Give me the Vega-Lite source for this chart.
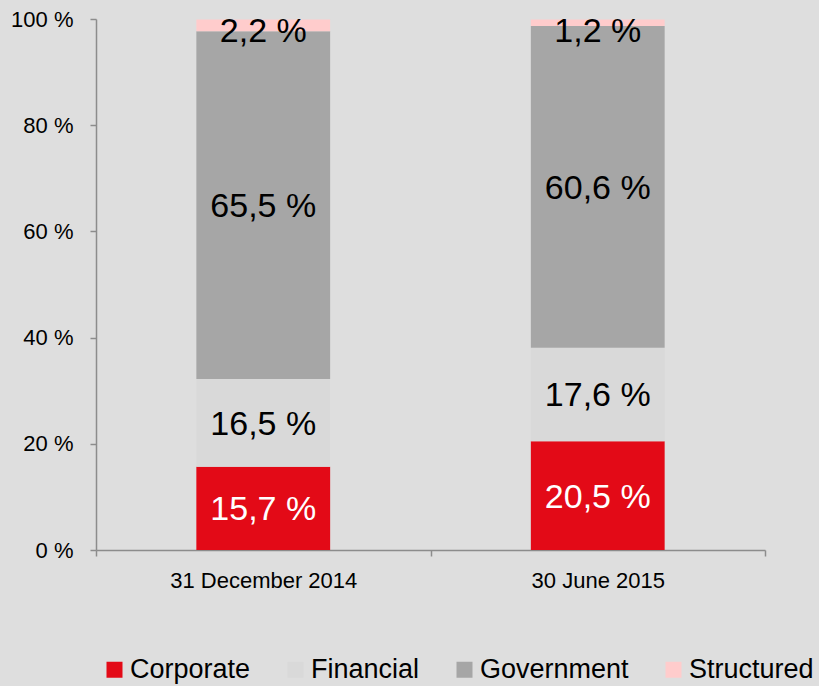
{
  "$schema": "https://vega.github.io/schema/vega-lite/v6.json",
  "width": 669,
  "height": 531,
  "autosize": {"type": "none"},
  "padding": {"left": 96, "top": 19, "right": 54, "bottom": 136},
  "background": "#dedede",
  "config": {"view": {"stroke": null}, "font": "Liberation Sans"},
  "data": {
    "values": [
      {"period": "31 December 2014", "category": "Corporate", "value": 15.7},
      {"period": "31 December 2014", "category": "Financial", "value": 16.5},
      {"period": "31 December 2014", "category": "Government", "value": 65.5},
      {"period": "31 December 2014", "category": "Structured", "value": 2.2},
      {"period": "30 June 2015", "category": "Corporate", "value": 20.5},
      {"period": "30 June 2015", "category": "Financial", "value": 17.6},
      {"period": "30 June 2015", "category": "Government", "value": 60.6},
      {"period": "30 June 2015", "category": "Structured", "value": 1.2}
    ]
  },
  "transform": [
    {"calculate": "indexof(['Corporate','Financial','Government','Structured'], datum.category)", "as": "order"},
    {"stack": "value", "groupby": ["period"], "sort": [{"field": "order"}], "as": ["y0", "y1"]},
    {"calculate": "(datum.y0 + datum.y1) / 2", "as": "ymid"},
    {"calculate": "replace(format(datum.value, '.1f'), '.', ',') + ' %'", "as": "label"}
  ],
  "encoding": {
    "x": {
      "field": "period",
      "type": "nominal",
      "sort": ["31 December 2014", "30 June 2015"],
      "scale": {"paddingInner": 0, "paddingOuter": 0},
      "axis": {
        "title": null,
        "labelAngle": 0,
        "labelFontSize": 22,
        "labelLimit": 0,
        "labelColor": "#000000",
        "labelFont": "Liberation Sans",
        "tickBand": "extent",
        "tickSize": 6,
        "tickColor": "#8c8c8c",
        "tickWidth": 1.5,
        "domainColor": "#8c8c8c",
        "domainWidth": 1.5,
        "labelPadding": 14
      }
    }
  },
  "layer": [
    {
      "mark": {"type": "bar", "width": {"band": 0.4}},
      "encoding": {
        "y": {
          "field": "y0",
          "type": "quantitative",
          "scale": {"domain": [0, 100], "nice": false},
          "axis": {
            "title": null,
            "values": [0, 20, 40, 60, 80, 100],
            "labelExpr": "datum.value + ' %'",
            "labelFontSize": 22,
            "labelColor": "#000000",
            "labelFont": "Liberation Sans",
            "labelPadding": 17,
            "tickSize": 6,
            "tickColor": "#8c8c8c",
            "tickWidth": 1.5,
            "domainColor": "#8c8c8c",
            "domainWidth": 1.5,
            "grid": false
          }
        },
        "y2": {"field": "y1"},
        "color": {
          "field": "category",
          "type": "nominal",
          "scale": {
            "domain": ["Corporate", "Financial", "Government", "Structured"],
            "range": ["#e30a17", "#d9d9d9", "#a6a6a6", "#ffcccc"]
          },
          "legend": {
            "title": null,
            "orient": "none",
            "legendX": 5,
            "legendY": 637,
            "direction": "horizontal",
            "symbolType": "square",
            "symbolSize": 256,
            "symbolStrokeWidth": 0,
            "labelFontSize": 27,
            "labelFont": "Liberation Sans",
            "labelColor": "#000000",
            "labelLimit": 0,
            "labelOffset": 2,
            "columnPadding": 31,
            "padding": 0
          }
        }
      }
    },
    {
      "transform": [{"filter": "datum.category != 'Structured'"}],
      "mark": {"type": "text", "fontSize": 34, "baseline": "middle", "align": "center", "dy": 2},
      "encoding": {
        "y": {"field": "ymid", "type": "quantitative"},
        "text": {"field": "label"},
        "color": {"condition": {"test": "datum.category == 'Corporate'", "value": "#ffffff"}, "value": "#000000"}
      }
    },
    {
      "transform": [{"filter": "datum.category == 'Structured'"}],
      "mark": {"type": "text", "fontSize": 34, "baseline": "top", "align": "center", "dy": -5, "color": "#000000"},
      "encoding": {
        "y": {"field": "y1", "type": "quantitative"},
        "text": {"field": "label"}
      }
    }
  ]
}
